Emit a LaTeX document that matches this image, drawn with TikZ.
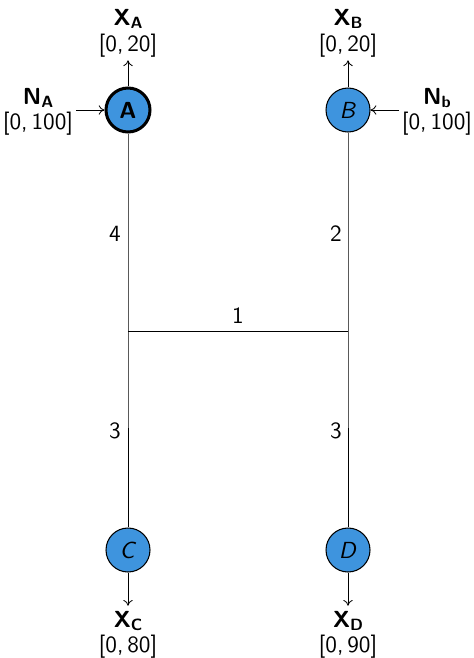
\documentclass[tikz,border=0pt]{standalone}
\usetikzlibrary{arrows.meta}
\definecolor{nodeblue}{RGB}{62,148,222}
\newcommand{\subl}[1]{\raisebox{-1.4pt}{\fontsize{7}{8}\selectfont\textbf{#1}}}
\begin{document}
\begin{tikzpicture}[x=0.43pt,y=-0.43pt,font=\sffamily,
  station/.style={circle,draw=black,fill=nodeblue,minimum size=44*0.43pt,inner sep=0pt,line width=0.45pt},
  mainstation/.style={station,line width=1.3pt},
  flow/.style={-{To[length=2.5pt,width=4pt]},line width=0.35pt},
  pipe/.style={line width=0.4pt},
  lbl/.style={inner sep=0pt,anchor=base}]
\useasboundingbox (0,0) rectangle (473,658);
\node[mainstation] (A) at (128,110) {\textbf{A}};
\node[station] (B) at (348,110) {\textit{B}};
\node[station] (C) at (128,550) {\textit{C}};
\node[station] (D) at (348,550) {\textit{D}};
\coordinate (J1) at (128,331);
\coordinate (J2) at (348,331);
% pipes
\draw[pipe] (A) -- (J1) -- (C);
\draw[pipe] (B) -- (J2) -- (D);
\draw[pipe] (J1) -- node[above,inner sep=3pt] {1} (J2);
\node (l4) at (115,234) {4};
\node (l2) at (336,234) {2};
\node (l3a) at (115,431) {3};
\node (l3b) at (336,431) {3};
% outputs
\node[lbl] (xa) at (128,25) {\textbf{X}\subl{A}};
\node[lbl] (ra) at (128,51) {[0,\,20]};
\node[lbl] (xb) at (348,25) {\textbf{X}\subl{B}};
\node[lbl] (rb) at (348,51) {[0,\,20]};
\node[lbl] (xc) at (128,627) {\textbf{X}\subl{C}};
\node[lbl] (rc) at (128,652) {[0,\,80]};
\node[lbl] (xd) at (348,627) {\textbf{X}\subl{D}};
\node[lbl] (rd) at (348,652) {[0,\,90]};
\node[lbl] (na) at (38,104) {\textbf{N}\subl{A}};
\node[lbl] (rna) at (38,129) {[0,\,100]};
\node[lbl] (nb) at (437,104) {\textbf{N}\subl{b}};
\node[lbl] (rnb) at (437,129) {[0,\,100]};
\draw[flow,shorten >=1.3pt] (A) -- (ra);
\draw[flow,shorten >=1.3pt] (B) -- (rb);
\draw[flow,shorten >=2pt] (C) -- (xc);
\draw[flow,shorten >=2pt] (D) -- (xd);
\draw[flow] ([xshift=1pt]rna.east |- A) -- (A);
\draw[flow] ([xshift=-1pt]rnb.west |- B) -- (B);
\end{tikzpicture}
\end{document}
